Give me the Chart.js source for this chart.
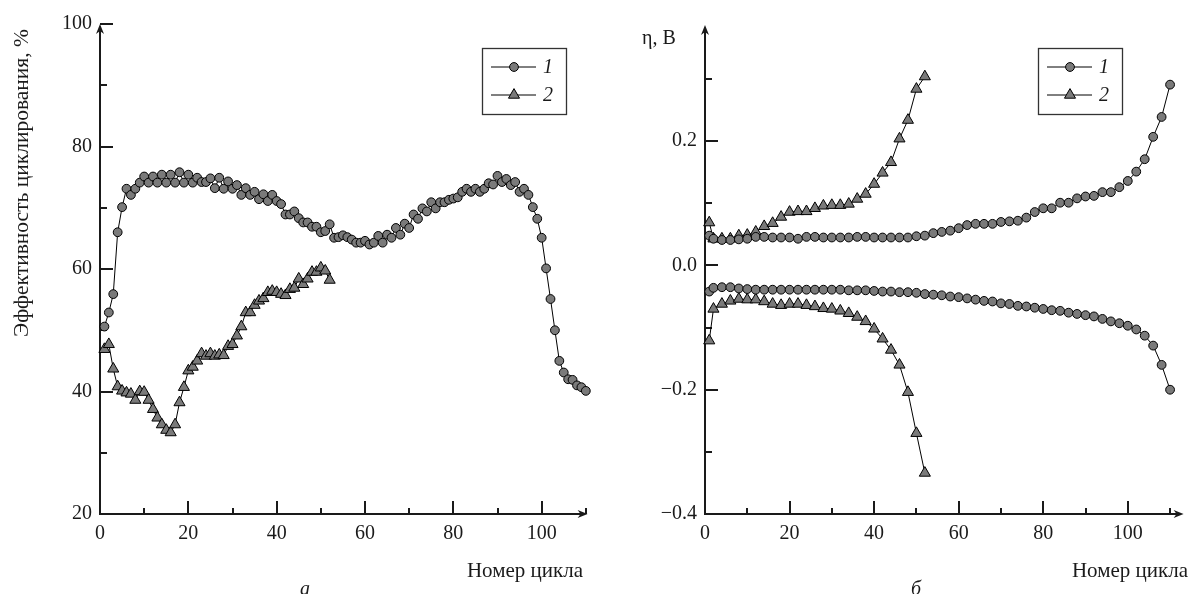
<!DOCTYPE html>
<html>
<head>
<meta charset="utf-8">
<script src="https://cdn.jsdelivr.net/npm/chart.js@4.4.1/dist/chart.umd.min.js"></script>
<style>
  body { margin: 0; background: #fff; }
  #wrap { position: relative; width: 1191px; height: 594px; overflow: hidden; }
  canvas { position: absolute; top: 0; }
  #left { left: 0; }
  #right { left: 595px; }
</style>
</head>
<body>
<div id="wrap">
  <canvas id="left" width="595" height="594"></canvas>
  <canvas id="right" width="596" height="594"></canvas>
</div>
<script>
// panel a: cycling efficiency, %
const effCycles1 = [1, 2, 3, 4, 5, 6, 7, 8, 9, 10,
    11, 12, 13, 14, 15, 16, 17, 18, 19, 20,
    21, 22, 23, 24, 25, 26, 27, 28, 29, 30,
    31, 32, 33, 34, 35, 36, 37, 38, 39, 40,
    41, 42, 43, 44, 45, 46, 47, 48, 49, 50,
    51, 52, 53, 54, 55, 56, 57, 58, 59, 60,
    61, 62, 63, 64, 65, 66, 67, 68, 69, 70,
    71, 72, 73, 74, 75, 76, 77, 78, 79, 80,
    81, 82, 83, 84, 85, 86, 87, 88, 89, 90,
    91, 92, 93, 94, 95, 96, 97, 98, 99, 100,
    101, 102, 103, 104, 105, 106, 107, 108, 109, 110];
const effSeries1 = [50.6, 52.9, 55.9, 66.0, 70.1, 73.1, 72.1, 73.1, 74.1, 75.1,
    74.1, 75.1, 74.1, 75.4, 74.1, 75.4, 74.1, 75.8, 74.1, 75.4,
    74.1, 74.9, 74.2, 74.2, 74.8, 73.2, 74.9, 73.1, 74.3, 73.1,
    73.7, 72.1, 73.2, 72.1, 72.6, 71.4, 72.2, 71.1, 72.1, 71.1,
    70.6, 68.9, 68.9, 69.4, 68.3, 67.6, 67.6, 66.9, 66.9, 66.0,
    66.2, 67.3, 65.1, 65.2, 65.5, 65.2, 64.8, 64.3, 64.3, 64.6,
    64.0, 64.3, 65.4, 64.3, 65.6, 65.1, 66.7, 65.6, 67.4, 66.7,
    68.9, 68.2, 69.9, 69.4, 70.9, 69.9, 70.9, 70.9, 71.3, 71.5,
    71.7, 72.6, 73.1, 72.6, 73.1, 72.6, 73.1, 74.0, 73.8, 75.2,
    74.2, 74.7, 73.7, 74.2, 72.6, 73.1, 72.1, 70.1, 68.2, 65.1,
    60.1, 55.1, 50.0, 45.0, 43.1, 42.0, 41.9, 41.0, 40.7, 40.1];
const effCycles2 = [1, 2, 3, 4, 5, 6, 7, 8, 9, 10,
    11, 12, 13, 14, 15, 16, 17, 18, 19, 20,
    21, 22, 23, 24, 25, 26, 27, 28, 29, 30,
    31, 32, 33, 34, 35, 36, 37, 38, 39, 40,
    41, 42, 43, 44, 45, 46, 47, 48, 49, 50,
    51, 52];
const effSeries2 = [46.9, 47.7, 43.7, 40.8, 40.1, 39.8, 39.6, 38.6, 40.0, 39.9,
    38.6, 37.1, 35.7, 34.6, 33.7, 33.3, 34.6, 38.2, 40.7, 43.4,
    44.0, 45.0, 46.2, 45.8, 46.2, 45.8, 46.0, 45.9, 47.4, 47.7,
    49.1, 50.6, 52.9, 52.9, 54.1, 54.8, 55.2, 56.2, 56.4, 56.2,
    55.9, 55.7, 56.7, 56.9, 58.4, 57.5, 58.4, 59.5, 59.5, 60.2,
    59.7, 58.2];

// panel б: overpotential η, V (upper and lower branches)
const etaCycles1 = [1, 2, 4, 6, 8, 10, 12, 14, 16, 18, 20, 22, 24, 26, 28, 30,
    32, 34, 36, 38, 40, 42, 44, 46, 48, 50, 52, 54, 56, 58, 60, 62,
    64, 66, 68, 70, 72, 74, 76, 78, 80, 82, 84, 86, 88, 90, 92, 94,
    96, 98, 100, 102, 104, 106, 108, 110];
const etaUp1 = [0.048, 0.043, 0.041, 0.041, 0.042, 0.043, 0.046, 0.046, 0.045, 0.045,
    0.045, 0.043, 0.046, 0.046, 0.045, 0.045, 0.045, 0.045, 0.046, 0.046,
    0.045, 0.045, 0.045, 0.045, 0.045, 0.047, 0.048, 0.052, 0.054, 0.056,
    0.060, 0.065, 0.067, 0.067, 0.067, 0.070, 0.071, 0.072, 0.077, 0.086,
    0.092, 0.092, 0.101, 0.101, 0.108, 0.111, 0.112, 0.118, 0.118, 0.126,
    0.136, 0.151, 0.171, 0.207, 0.239, 0.291];
const etaDown1 = [-0.042, -0.036, -0.035, -0.035, -0.037, -0.038, -0.039, -0.039, -0.039, -0.039,
    -0.039, -0.039, -0.039, -0.039, -0.039, -0.039, -0.039, -0.040, -0.040, -0.040,
    -0.041, -0.042, -0.042, -0.043, -0.043, -0.044, -0.046, -0.047, -0.048, -0.050,
    -0.051, -0.053, -0.055, -0.057, -0.058, -0.061, -0.062, -0.065, -0.066, -0.068,
    -0.070, -0.072, -0.073, -0.076, -0.078, -0.080, -0.082, -0.086, -0.090, -0.093,
    -0.097, -0.103, -0.113, -0.129, -0.160, -0.200];
const etaCycles2 = [1, 2, 4, 6, 8, 10, 12, 14, 16, 18, 20, 22, 24, 26,
    28, 30, 32, 34, 36, 38, 40, 42, 44, 46, 48, 50, 52];
const etaUp2 = [0.069, 0.043, 0.043, 0.043, 0.048, 0.049, 0.054, 0.063, 0.068, 0.078,
    0.086, 0.087, 0.087, 0.092, 0.096, 0.097, 0.097, 0.099, 0.107, 0.115,
    0.131, 0.149, 0.166, 0.204, 0.234, 0.284, 0.304];
const etaDown2 = [-0.121, -0.070, -0.062, -0.057, -0.054, -0.055, -0.055, -0.058, -0.062, -0.064,
    -0.062, -0.062, -0.064, -0.066, -0.069, -0.070, -0.073, -0.077, -0.083, -0.090,
    -0.102, -0.118, -0.136, -0.160, -0.204, -0.270, -0.334];

const xTitle = 'Номер цикла';
const legendNames = ['1', '2'];

const serif = "'Liberation Serif', 'Times New Roman', serif";
const ink = '#1a1a1a';
const markFill = '#7a7a7a';

function pts(xs, ys) {
    return xs.map((x, i) => ({ x: x, y: ys[i] }));
}

function series(label, xs, ys, style) {
    return {
        label: label,
        data: pts(xs, ys),
        borderColor: '#000',
        borderWidth: 1,
        pointStyle: style,
        pointRadius: style === 'triangle' ? 6.4 : 4.4,
        pointBackgroundColor: markFill,
        pointBorderColor: '#000',
        pointBorderWidth: 1,
        tension: 0,
        clip: false
    };
}

// axes with inward ticks and arrow heads
const frame = {
    id: 'frame',
    beforeDatasetsDraw(chart) {
        const { ctx, chartArea: a, scales: { x, y } } = chart;
        ctx.save();
        ctx.strokeStyle = ink;
        ctx.fillStyle = ink;
        ctx.lineWidth = 2;
        ctx.beginPath();
        ctx.moveTo(a.left, a.bottom + 1);
        ctx.lineTo(a.left, a.top + 4);
        ctx.moveTo(a.left - 1, a.bottom);
        ctx.lineTo(a.right - 4, a.bottom);
        ctx.stroke();

        y.ticks.forEach(t => {
            const py = Math.round(y.getPixelForValue(t.value));
            const len = t.label !== '' ? 13 : 7;
            ctx.beginPath();
            ctx.moveTo(a.left, py);
            ctx.lineTo(a.left + len, py);
            ctx.stroke();
        });
        x.ticks.forEach(t => {
            const px = Math.round(x.getPixelForValue(t.value));
            const len = t.label !== '' ? 13 : 6;
            ctx.beginPath();
            ctx.moveTo(px, a.bottom);
            ctx.lineTo(px, a.bottom - len);
            ctx.stroke();
        });

        // arrow up
        ctx.beginPath();
        ctx.moveTo(a.left, a.top);
        ctx.lineTo(a.left - 4, a.top + 10);
        ctx.lineTo(a.left, a.top + 7);
        ctx.lineTo(a.left + 4, a.top + 10);
        ctx.closePath();
        ctx.fill();
        // arrow right
        ctx.beginPath();
        ctx.moveTo(a.right, a.bottom);
        ctx.lineTo(a.right - 10, a.bottom - 4);
        ctx.lineTo(a.right - 7, a.bottom);
        ctx.lineTo(a.right - 10, a.bottom + 4);
        ctx.closePath();
        ctx.fill();
        ctx.restore();
    },
    afterDraw(chart, args, opts) {
        const { ctx } = chart;
        ctx.save();
        ctx.fillStyle = ink;

        // axis titles
        ctx.font = '21px ' + serif;
        ctx.textAlign = 'right';
        ctx.textBaseline = 'alphabetic';
        ctx.fillText(xTitle, opts.xTitleRight, 577);

        if (opts.yTitleRotated) {
            ctx.save();
            ctx.font = '21.5px ' + serif;
            ctx.translate(opts.yTitleX, opts.yTitleY);
            ctx.rotate(-Math.PI / 2);
            ctx.textAlign = 'center';
            ctx.textBaseline = 'middle';
            ctx.fillText(opts.yTitle, 0, 0);
            ctx.restore();
        } else {
            ctx.font = '20px ' + serif;
            ctx.textAlign = 'left';
            ctx.textBaseline = 'middle';
            ctx.fillText(opts.yTitle, opts.yTitleX, opts.yTitleY);
        }

        // panel letter
        ctx.font = 'italic 20px ' + serif;
        ctx.textAlign = 'center';
        ctx.textBaseline = 'alphabetic';
        ctx.fillText(opts.panel, opts.panelX, 595);

        // legend box
        const bx = opts.legendX, by = 48, bw = 84, bh = 66;
        ctx.strokeStyle = '#333';
        ctx.lineWidth = 1.3;
        ctx.strokeRect(bx + 0.5, by + 0.5, bw, bh);
        const rows = [67, 95];
        chart.data.datasets.slice(0, 2).forEach((ds, i) => {
            const ry = rows[i];
            ctx.strokeStyle = '#000';
            ctx.lineWidth = 1;
            ctx.beginPath();
            ctx.moveTo(bx + 9, ry);
            ctx.lineTo(bx + 54, ry);
            ctx.stroke();
            const cx = bx + 32;
            ctx.fillStyle = ds.pointBackgroundColor;
            ctx.beginPath();
            if (ds.pointStyle === 'triangle') {
                const r = ds.pointRadius;
                ctx.moveTo(cx, ry - r);
                ctx.lineTo(cx + r * 0.866, ry + r * 0.5);
                ctx.lineTo(cx - r * 0.866, ry + r * 0.5);
                ctx.closePath();
            } else {
                ctx.arc(cx, ry, ds.pointRadius, 0, Math.PI * 2);
            }
            ctx.fill();
            ctx.stroke();
            ctx.fillStyle = ink;
            ctx.font = 'italic 20px ' + serif;
            ctx.textAlign = 'left';
            ctx.textBaseline = 'middle';
            ctx.fillText(legendNames[i], bx + 61, ry + 1);
        });
        ctx.restore();
    }
};

function makeChart(id, datasets, o) {
    return new Chart(document.getElementById(id), {
        type: 'line',
        data: { datasets: datasets },
        plugins: [frame],
        options: {
            responsive: false,
            animation: false,
            events: [],
            layout: { padding: { top: o.top, right: 2, left: 0, bottom: 0 } },
            plugins: {
                legend: { display: false },
                tooltip: { enabled: false },
                frame: o.frame
            },
            scales: {
                x: {
                    type: 'linear',
                    min: 0,
                    max: o.xMax,
                    grid: { display: false, drawTicks: false },
                    border: { display: false },
                    afterFit: s => { s.height = 80; },
                    ticks: {
                        stepSize: 10,
                        includeBounds: false,
                        autoSkip: false,
                        maxRotation: 0,
                        padding: 8,
                        color: ink,
                        font: { family: serif, size: 20 },
                        callback: v => (Math.round(v) % 20 === 0 ? String(Math.round(v)) : '')
                    }
                },
                y: {
                    type: 'linear',
                    min: o.yMin,
                    max: o.yMax,
                    grid: { display: false, drawTicks: false },
                    border: { display: false },
                    afterFit: s => { s.width = o.yWidth; },
                    ticks: {
                        stepSize: o.yStep,
                        includeBounds: false,
                        autoSkip: false,
                        padding: 8,
                        color: ink,
                        font: { family: serif, size: 20 },
                        callback: o.yLabel
                    }
                }
            }
        }
    });
}

makeChart('left', [
    series('1', effCycles1, effSeries1, 'circle'),
    series('2', effCycles2, effSeries2, 'triangle')
], {
    top: 24, xMax: 110.4, yMin: 20, yMax: 100, yStep: 10, yWidth: 100,
    yLabel: v => (Math.round(v) % 20 === 0 ? String(Math.round(v)) : ''),
    frame: {
        xTitleRight: 583, yTitle: 'Эффективность циклирования, %', yTitleRotated: true,
        yTitleX: 22, yTitleY: 183, panel: 'а', panelX: 305, legendX: 482
    }
});

makeChart('right', [
    series('1', etaCycles1, etaUp1, 'circle'),
    series('2', etaCycles2, etaUp2, 'triangle'),
    series('1', etaCycles1, etaDown1, 'circle'),
    series('2', etaCycles2, etaDown2, 'triangle')
], {
    top: 25, xMax: 113.2, yMin: -0.4, yMax: 0.387, yStep: 0.1, yWidth: 110,
    yLabel: v => {
        const r = Math.round(v * 10);
        if (r % 2 !== 0) return '';
        return (r < 0 ? '\u2212' : '') + Math.abs(r / 10).toFixed(1);
    },
    frame: {
        xTitleRight: 593, yTitle: 'η, В', yTitleRotated: false,
        yTitleX: 47, yTitleY: 39, panel: 'б', panelX: 321, legendX: 443
    }
});
</script>
</body>
</html>
